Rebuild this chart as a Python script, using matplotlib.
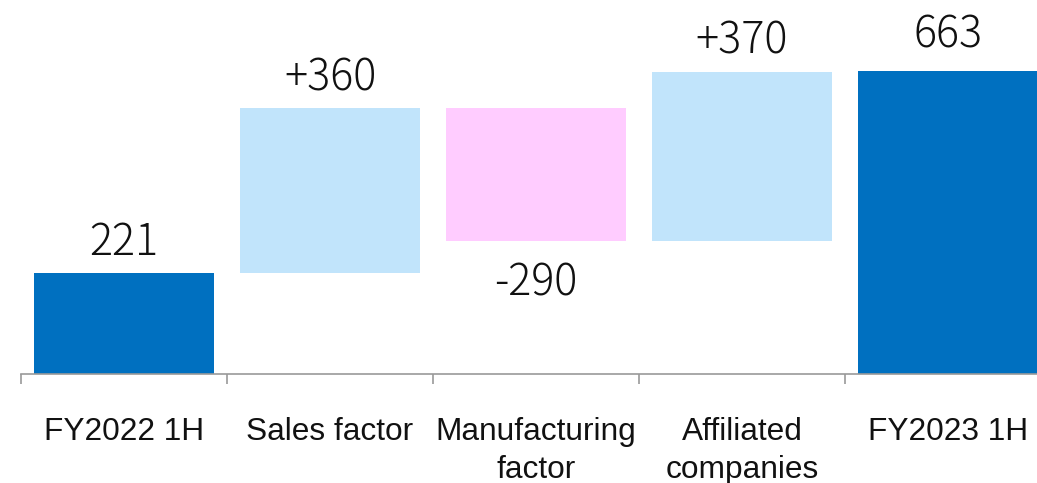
import matplotlib
matplotlib.use("Agg")
import matplotlib.pyplot as plt
import numpy as np

categories = ["FY2022 1H", "Sales factor", "Manufacturing\nfactor", "Affiliated\ncompanies", "FY2023 1H"]
values = [221, 360, -290, 370, 663]
kinds = ["total", "delta", "delta", "delta", "total"]
value_labels = ["221", "+360", "-290", "+370", "663"]

dark_blue = "#0070C0"
light_blue = "#C1E4FB"
pink = "#FFCCFF"

# waterfall bottoms / heights
bottoms, heights, colors = [], [], []
running = 0
for v, k in zip(values, kinds):
    if k == "total":
        bottoms.append(0)
        heights.append(v)
        colors.append(dark_blue)
        running = v
    else:
        if v >= 0:
            bottoms.append(running)
            heights.append(v)
            colors.append(light_blue)
        else:
            bottoms.append(running + v)
            heights.append(-v)
            colors.append(pink)
        running += v

fig = plt.figure(figsize=(10.37, 4.83), dpi=100)
ax = fig.add_axes([21 / 1037, 109 / 483, 1030 / 1037, 374 / 483])

x = np.arange(len(categories))
ax.bar(x, heights, bottom=bottoms, width=0.87, color=colors, edgecolor="none")

ax.set_xlim(-0.5, len(categories) - 0.5)
ax.set_ylim(0, 663 * 374 / 303)

num_font = dict(family=["Noto Sans CJK JP", "DejaVu Sans"], fontsize=31, weight="light")
for xi, b, h, v, lab in zip(x, bottoms, heights, values, value_labels):
    if v < 0:
        ax.annotate(lab, (xi, b), xytext=(0, -14), textcoords="offset points",
                    ha="center", va="top", color="#111111", **num_font)
    else:
        off = 13 if lab != "663" else 17
        ax.annotate(lab, (xi, b + h), xytext=(0, off), textcoords="offset points",
                    ha="center", va="baseline", color="#111111", **num_font)

for s in ["top", "left", "right"]:
    ax.spines[s].set_visible(False)
ax.spines["bottom"].set_color("#999999")
ax.spines["bottom"].set_linewidth(1.2)

ax.set_yticks([])
ax.set_xticks(x)
ax.set_xticklabels(categories, family=["Liberation Sans", "DejaVu Sans"], fontsize=22.8,
                   color="#111111", linespacing=1.35, va="top")
ax.tick_params(axis="x", which="major", length=0, pad=31)
ax.set_xticks(np.arange(-0.5, len(categories)), minor=True)
ax.tick_params(axis="x", which="minor", length=7, width=1.2, color="#999999", direction="out")

fig.savefig("out.png", dpi=100)
